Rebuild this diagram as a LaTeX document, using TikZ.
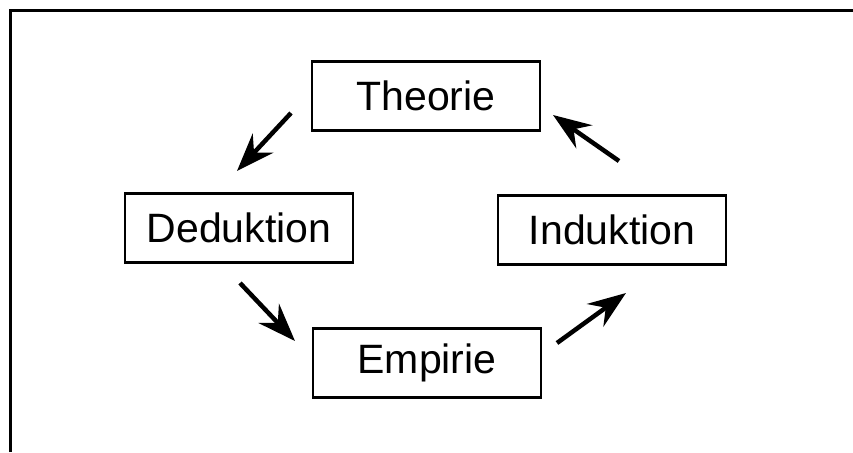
\documentclass[tikz,border=0pt]{standalone}
\usepackage{fontspec}
\setmainfont{Liberation Sans}
\usetikzlibrary{arrows.meta}
\tikzset{
  stage/.style={draw=black, line width=2.5pt, minimum width=228pt, minimum height=69pt, inner sep=0pt, font=\fontsize{41}{49}\selectfont},
  cyclearrow/.style={line width=4.5pt, -{Stealth[length=38pt, width=28pt, inset=13pt]}},
  frameline/.style={line width=3pt}
}
\begin{document}
\begin{tikzpicture}[x=1pt, y=-1pt]
\useasboundingbox (0,0) rectangle (853,452);
\coordinate (fa) at (10,452);
\coordinate (fb) at (10,11);
\coordinate (fc) at (853,11);
\draw[frameline] (fa) -- (fb) -- (fc);
\node[stage] (theorie) at (426,96) {Theorie};
\node[stage] (deduktion) at (239,228) {Deduktion};
\node[stage] (empirie) at (427,363) {Empirie};
\node[stage] (induktion) at (612,230) {Induktion};
\coordinate (a1) at (291,113);
\coordinate (b1) at (237,171);
\coordinate (a2) at (240,283);
\coordinate (b2) at (295,341);
\coordinate (a3) at (557,343);
\coordinate (b3) at (626,293);
\coordinate (a4) at (619,161);
\coordinate (b4) at (553,115);
\draw[cyclearrow] (a1) -- (b1);
\draw[cyclearrow] (a2) -- (b2);
\draw[cyclearrow] (a3) -- (b3);
\draw[cyclearrow] (a4) -- (b4);
\end{tikzpicture}
\end{document}
